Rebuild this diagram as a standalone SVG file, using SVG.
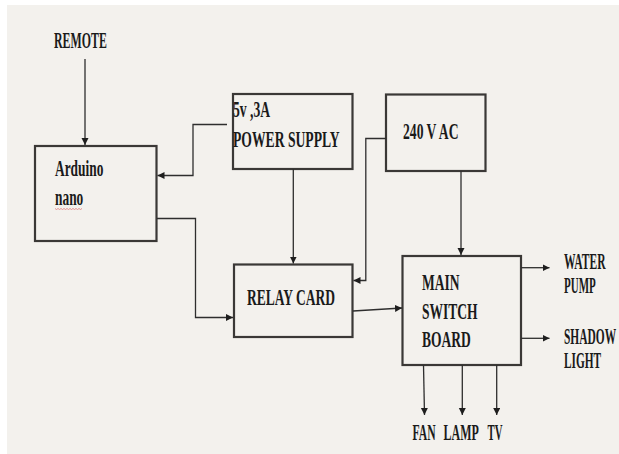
<svg xmlns="http://www.w3.org/2000/svg" width="619" height="454" viewBox="0 0 619 454">
<defs>
<marker id="ah" markerUnits="userSpaceOnUse" markerWidth="8" markerHeight="8" refX="7" refY="3.5" orient="auto">
<path d="M0,0 L7,3.5 L0,7 z" fill="#1e1e1e"/>
</marker>
<style>
.box{fill:none;stroke:#3a3836;stroke-width:2.2}
.t{font-family:"Liberation Serif","Times New Roman",serif;font-weight:bold;font-size:23px;fill:#1a1a1a}
.c{fill:none;stroke:#2e2e2e;stroke-width:1.3}
.a{marker-end:url(#ah)}
</style>
</defs>
<rect x="0" y="0" width="619" height="454" fill="#ffffff"/>
<rect x="7" y="5" width="612" height="449" fill="#f3f1ed"/>

<g id="remote">
<text class="t" transform="translate(54,48) scale(0.517,1)">REMOTE</text>
</g>

<g id="arduino">
<rect class="box" x="35" y="146" width="121.5" height="95"/>
<text class="t" transform="translate(55,176) scale(0.583,1)">Arduino</text>
<text class="t" transform="translate(55,205) scale(0.583,1)">nano</text>
<path d="M55,208.5 l1.5,1 l1.5,-1 l1.5,1 l1.5,-1 l1.5,1 l1.5,-1 l1.5,1 l1.5,-1 l1.5,1 l1.5,-1 l1.5,1 l1.5,-1 l1.5,1 l1.5,-1 l1.5,1 l1.5,-1 l1.5,1 l1.5,-1" fill="none" stroke="#e07a7a" stroke-width="0.8"/>
</g>

<g id="power-supply">
<rect class="box" x="233" y="94" width="119.5" height="75"/>
<text class="t" transform="translate(233,117) scale(0.593,1)">5v ,3A</text>
<text class="t" transform="translate(233,147) scale(0.593,1)">POWER SUPPLY</text>
</g>

<g id="ac-240">
<rect class="box" x="386" y="94.5" width="99.5" height="76.5"/>
<text class="t" transform="translate(403,139) scale(0.593,1)">240 V AC</text>
</g>

<g id="relay-card">
<rect class="box" x="234" y="264.5" width="118.5" height="72.5"/>
<text class="t" transform="translate(247,305) scale(0.588,1)">RELAY CARD</text>
</g>

<g id="main-switch-board">
<rect class="box" x="402.5" y="256" width="118.5" height="109"/>
<text class="t" transform="translate(422,290) scale(0.588,1)">MAIN</text>
<text class="t" transform="translate(422,319) scale(0.588,1)">SWITCH</text>
<text class="t" transform="translate(422,347) scale(0.588,1)">BOARD</text>
</g>

<g id="outputs">
<text class="t" transform="translate(564,269) scale(0.502,1)">WATER</text>
<text class="t" transform="translate(564,293) scale(0.478,1)">PUMP</text>
<text class="t" transform="translate(564,344) scale(0.497,1)">SHADOW</text>
<text class="t" transform="translate(564,368) scale(0.493,1)">LIGHT</text>
<text class="t" transform="translate(412.5,440) scale(0.507,1)">FAN</text>
<text class="t" transform="translate(443.5,440) scale(0.521,1)">LAMP</text>
<text class="t" transform="translate(487.5,440) scale(0.469,1)">TV</text>
</g>

<g id="connectors">
<path class="c a" d="M85,59 L85,145"/>
<path class="c a" d="M227,124.5 L193,124.5 L193,175.5 L157.5,175.5"/>
<path class="c a" d="M157,218.5 L195.5,218.5 L195.5,317.5 L233,317.5"/>
<path class="c a" d="M293.3,169 L293.3,263.5"/>
<path class="c a" d="M386,138.5 L365.8,138.5 L365.8,280.5 L353.5,280.5"/>
<path class="c a" d="M461,171 L461,255"/>
<path class="c a" d="M353,311 L402,308"/>
<path class="c a" d="M521,267.7 L549.5,267.7"/>
<path class="c a" d="M521,338.3 L549.5,338.3"/>
<path class="c a" d="M423.5,365 L424.5,415"/>
<path class="c a" d="M462.3,365 L462.3,415"/>
<path class="c a" d="M496.7,365 L496.7,415"/>
</g>
</svg>
